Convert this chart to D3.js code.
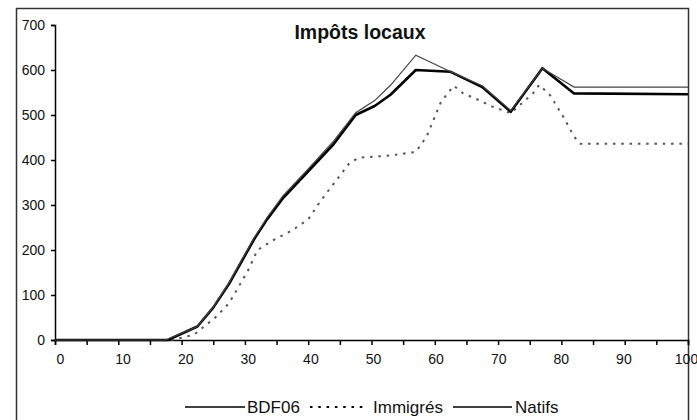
<!DOCTYPE html>
<html>
<head>
<meta charset="utf-8">
<script src="https://cdn.jsdelivr.net/npm/d3@7/dist/d3.min.js"></script>
<style>
  html, body { margin: 0; padding: 0; background: #fff; }
  svg { display: block; font-family: "Liberation Sans", Arial, sans-serif; }
</style>
</head>
<body>
<svg id="chart" width="697" height="420"></svg>
<script>
// Local taxes by age: [age, amount]
const bdf06 = [
  [0, 0], [17.5, 0], [22.5, 30], [25, 73], [27.5, 127], [29.5, 178], [31.5, 228],
  [33.5, 272], [36, 320], [40, 380], [44, 442], [47.5, 505], [50.5, 532], [53, 566],
  [57, 633], [62.5, 596], [67.5, 565], [72, 510], [77, 604], [82, 562], [100, 562]
];
const immigres = [
  [0, 0], [18.5, 0], [22, 12], [24, 35], [25.5, 52], [27.5, 82], [29, 118], [30.5, 155],
  [32, 200], [34.5, 222], [37.5, 244], [40, 268], [42, 310], [44.5, 356], [46.5, 393],
  [48, 405], [53, 410], [57, 418], [58.7, 452], [60, 496], [61, 530], [63, 565],
  [64.5, 548], [67, 533], [69, 519], [72, 504], [75.5, 548], [76.5, 567], [78.2, 544],
  [80.3, 496], [82, 452], [83, 436], [100, 436]
];
const natifs = [
  [0, 0], [17.8, 0], [22.5, 30], [25, 72], [27.5, 125], [29.5, 175], [31.5, 225],
  [33.5, 268], [36, 315], [40, 375], [44, 435], [47.5, 500], [50.5, 520], [53, 545],
  [57, 600], [62.5, 596], [67.5, 562], [72, 507], [77, 604], [82, 548], [100, 546]
];
const xTicks = d3.range(0, 101, 5);
const yTicks = d3.range(0, 701, 100);
const title = "Impôts locaux";
const legendLabels = ["BDF06", "Immigrés", "Natifs"];

const svg = d3.select("#chart");

const x = d3.scaleLinear().domain([0, 100]).range([55, 688]);
const y = d3.scaleLinear().domain([0, 700]).range([340, 25]);

// outer frame
svg.append("rect")
  .attr("x", 16.5).attr("y", 8.5)
  .attr("width", 672).attr("height", 430)
  .attr("fill", "none").attr("stroke", "#333").attr("stroke-width", 1.5);

// y axis
const yAxis = svg.append("g")
  .attr("transform", `translate(${x(0)},0)`)
  .call(d3.axisLeft(y).tickValues(yTicks).tickSize(4).tickPadding(6).tickFormat(d3.format("d")));
yAxis.select(".domain").attr("stroke", "#000").attr("stroke-width", 1.5);
yAxis.selectAll(".tick line").attr("stroke", "#000").attr("stroke-width", 1.5);
yAxis.selectAll("text").attr("font-size", 14).attr("fill", "#111");

// x axis
const xAxis = svg.append("g")
  .attr("transform", `translate(0,${y(0)})`)
  .call(d3.axisBottom(x).tickValues(xTicks).tickSize(5).tickPadding(9)
    .tickFormat(d => d % 10 === 0 ? d : ""));
xAxis.select(".domain").attr("stroke", "#000").attr("stroke-width", 1.5);
xAxis.selectAll(".tick line").attr("stroke", "#000").attr("stroke-width", 1.5);
xAxis.selectAll("text").attr("font-size", 14).attr("fill", "#111")
  .attr("dx", d => 5 * (1 - d / 100) - 2 * (d / 100));

// series
const line = d3.line().x(d => x(d[0])).y(d => y(d[1]));

svg.append("path").datum(immigres)
  .attr("d", line).attr("fill", "none")
  .attr("stroke", "#555").attr("stroke-width", 2)
  .attr("stroke-dasharray", "2.5,5.8");

svg.append("path").datum(natifs)
  .attr("d", line).attr("fill", "none")
  .attr("stroke", "#000").attr("stroke-width", 2.6)
  .attr("stroke-linejoin", "round");

svg.append("path").datum(bdf06)
  .attr("d", line).attr("fill", "none")
  .attr("stroke", "#444").attr("stroke-width", 1.2);

// title
svg.append("text")
  .attr("x", 360).attr("y", 39)
  .attr("text-anchor", "middle")
  .attr("font-size", 19.5).attr("font-weight", "bold")
  .attr("fill", "#111")
  .text(title);

// legend
const legend = svg.append("g");
const legendItems = [
  { label: legendLabels[0], x1: 185, x2: 245, tx: 247, dash: null, w: 1.5 },
  { label: legendLabels[1], x1: 310, x2: 366, tx: 373, dash: "2.5,5.8", w: 2 },
  { label: legendLabels[2], x1: 453, x2: 512, tx: 515, dash: null, w: 1.5 }
];
legendItems.forEach(it => {
  legend.append("line")
    .attr("x1", it.x1).attr("x2", it.x2)
    .attr("y1", 407).attr("y2", 407)
    .attr("stroke", "#000").attr("stroke-width", it.w)
    .attr("stroke-dasharray", it.dash);
  legend.append("text")
    .attr("x", it.tx).attr("y", 413)
    .attr("font-size", 17).attr("fill", "#111")
    .text(it.label);
});
</script>
</body>
</html>
